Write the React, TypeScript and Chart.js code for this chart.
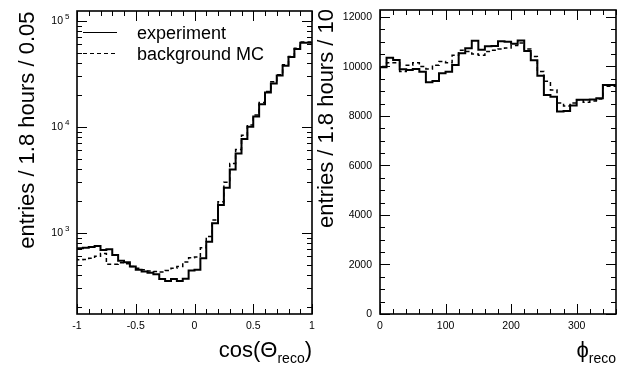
import React, { useEffect, useRef } from "react";
import { Chart, registerables } from "chart.js";
Chart.register(...registerables);

const FONT = '"Liberation Sans", Arial, Helvetica, sans-serif';

// ---------- Left panel: cos(Theta_reco), 40 bins of 0.05 ----------
const cosLo = -1;
const cosHi = 1;
const cosBinWidth = 0.05;
const cosExperiment = [
  687, 713, 722, 733, 749, 687, 697, 617, 545, 525,
  480, 447, 430, 418, 405, 366, 350, 366, 350, 368,
  440, 447, 573, 822, 1227, 1824, 2650, 3950, 5600, 7650,
  10000, 12500, 16300, 21000, 25600, 30500, 37500, 45500, 54000, 62000,
];
const cosBackgroundMC = [
  575, 555, 560, 575, 600, 638, 505, 505, 520, 510,
  480, 462, 447, 436, 430, 425, 440, 462, 480, 530,
  580, 590, 720, 920, 1320, 1960, 3000, 4500, 6100, 8300,
  10400, 12900, 16900, 21500, 26500, 31000, 38500, 46000, 55000, 63000,
];
const cosXTickValues = [-1, -0.5, 0, 0.5, 1];
const cosXTickLabels = ["-1", "-0.5", "0", "0.5", "1"];
const cosYDecades = [3, 4, 5];
const cosYMin = 171;
const cosYMax = 123500;

// ---------- Right panel: phi_reco, 36 bins of 10 ----------
const phiLo = 0;
const phiHi = 360;
const phiBinWidth = 10;
const phiExperiment = [
  9454, 9967, 10355, 10262, 9886, 9858, 9900, 9790, 9360, 9413,
  9724, 9790, 10060, 10530, 10730, 11040, 10670, 10820, 10830, 11020,
  11000, 10920, 11050, 10620, 10250, 9620, 8850, 8780, 8180, 8200,
  8420, 8650, 8650, 8660, 8720, 9250,
];
const phiBackgroundMC = [
  9800, 10000, 10150, 10150, 9800, 10050, 10150, 10000, 9900, 10050,
  10200, 10150, 10450, 10650, 10600, 10500, 10450, 10600, 10650, 10700,
  10750, 10850, 10950, 10700, 10400, 9800, 9400, 9050, 8520, 8400,
  8520, 8650, 8550, 8600, 8680, 9200,
];
const phiXTickValues = [0, 100, 200, 300];
const phiXTickLabels = ["0", "100", "200", "300"];
const phiYTickValues = [0, 2000, 4000, 6000, 8000, 10000, 12000];
const phiYTickLabels = ["0", "2000", "4000", "6000", "8000", "10000", "12000"];
const phiYMax = 12280;

const legendLabels = ["experiment", "background MC"];
const yTitleLeft = "entries / 1.8 hours / 0.05";
const yTitleRight = "entries / 1.8 hours / 10";

function histPoints(lo: number, w: number, vals: number[]) {
  const pts = vals.map((v, i) => ({ x: lo + i * w, y: v }));
  pts.push({ x: lo + vals.length * w, y: vals[vals.length - 1] });
  return pts;
}

function steps(a: number, b: number, s: number) {
  const out: number[] = [];
  for (let i = 0; a + i * s <= b + 1e-9; i++) out.push(+(a + i * s).toFixed(6));
  return out;
}

type PanelCfg = {
  xMajor: number[];
  xMinor: number[];
  xLabels: string[];
  yMajor: number[];
  yMinor: number[];
  drawYLabel: (ctx: CanvasRenderingContext2D, x: number, y: number, i: number) => void;
  yTitle: string;
  yTitleX: number;
  yTitleTop: number;
  xTitle: (ctx: CanvasRenderingContext2D, right: number) => void;
  legend: boolean;
};

function makePlugin(cfg: PanelCfg) {
  return {
    id: "rootFrame",
    afterDatasetsDraw(chart: any) {
      const { ctx, chartArea: a, scales } = chart;
      const xs = scales.x;
      const ys = scales.y;
      ctx.save();
      ctx.strokeStyle = "#000";
      ctx.lineWidth = 1;
      const line = (x1: number, y1: number, x2: number, y2: number) => {
        ctx.beginPath();
        ctx.moveTo(x1, y1);
        ctx.lineTo(x2, y2);
        ctx.stroke();
      };
      for (const v of cfg.xMinor) {
        const p = Math.round(xs.getPixelForValue(v)) + 0.5;
        line(p, a.bottom, p, a.bottom - 5);
        line(p, a.top, p, a.top + 5);
      }
      for (const v of cfg.xMajor) {
        const p = Math.round(xs.getPixelForValue(v)) + 0.5;
        line(p, a.bottom, p, a.bottom - 10);
        line(p, a.top, p, a.top + 10);
      }
      for (const v of cfg.yMinor) {
        const p = Math.round(ys.getPixelForValue(v)) + 0.5;
        line(a.left, p, a.left + 5, p);
        line(a.right, p, a.right - 5, p);
      }
      for (const v of cfg.yMajor) {
        const p = Math.round(ys.getPixelForValue(v)) + 0.5;
        line(a.left, p, a.left + 10, p);
        line(a.right, p, a.right - 10, p);
      }
      ctx.lineWidth = 1.6;
      ctx.strokeRect(a.left, a.top, a.right - a.left, a.bottom - a.top);
      ctx.restore();
    },
    afterDraw(chart: any) {
      const { ctx, chartArea: a, scales } = chart;
      const xs = scales.x;
      const ys = scales.y;
      ctx.save();
      ctx.fillStyle = "#000";
      // x tick labels
      ctx.font = `10.5px ${FONT}`;
      ctx.textAlign = "center";
      ctx.textBaseline = "middle";
      cfg.xMajor.forEach((v, i) => {
        ctx.fillText(cfg.xLabels[i], xs.getPixelForValue(v), a.bottom + 12);
      });
      // y tick labels
      cfg.yMajor.forEach((v, i) => {
        cfg.drawYLabel(ctx, a.left - 8, ys.getPixelForValue(v), i);
      });
      // y title
      ctx.save();
      ctx.translate(cfg.yTitleX, cfg.yTitleTop);
      ctx.rotate(-Math.PI / 2);
      ctx.font = `22px ${FONT}`;
      ctx.textAlign = "right";
      ctx.textBaseline = "alphabetic";
      ctx.fillText(cfg.yTitle, 0, 0);
      ctx.restore();
      // x title
      cfg.xTitle(ctx, a.right);
      // legend
      if (cfg.legend) {
        ctx.strokeStyle = "#000";
        ctx.lineWidth = 1.2;
        ctx.beginPath();
        ctx.moveTo(83, 32.5);
        ctx.lineTo(117, 32.5);
        ctx.stroke();
        ctx.setLineDash([4, 3]);
        ctx.beginPath();
        ctx.moveTo(83, 53.5);
        ctx.lineTo(117, 53.5);
        ctx.stroke();
        ctx.setLineDash([]);
        ctx.font = `18px ${FONT}`;
        ctx.textAlign = "left";
        ctx.textBaseline = "alphabetic";
        ctx.fillText(legendLabels[0], 137, 39);
        ctx.fillText(legendLabels[1], 137, 60);
      }
      ctx.restore();
    },
  };
}

function drawSubTitle(ctx: CanvasRenderingContext2D, right: number, main: string, sub: string, suffix: string) {
  ctx.textAlign = "left";
  ctx.textBaseline = "alphabetic";
  ctx.font = `22px ${FONT}`;
  const wMain = ctx.measureText(main).width;
  const wSuf = ctx.measureText(suffix).width;
  ctx.font = `14px ${FONT}`;
  const wSub = ctx.measureText(sub).width;
  let x = right - (wMain + wSub + wSuf);
  ctx.font = `22px ${FONT}`;
  ctx.fillText(main, x, 357);
  x += wMain;
  ctx.font = `14px ${FONT}`;
  ctx.fillText(sub, x, 363);
  x += wSub;
  ctx.font = `22px ${FONT}`;
  if (suffix) ctx.fillText(suffix, x, 357);
}

function lineDatasets(lo: number, w: number, exp: number[], mc: number[]) {
  return [
    {
      label: legendLabels[1],
      data: histPoints(lo, w, mc),
      borderColor: "#000",
      borderWidth: 1.5,
      borderDash: [4, 3],
      pointRadius: 0,
      stepped: "after" as const,
      fill: false,
    },
    {
      label: legendLabels[0],
      data: histPoints(lo, w, exp),
      borderColor: "#000",
      borderWidth: 2,
      pointRadius: 0,
      stepped: "after" as const,
      fill: false,
    },
  ];
}

function useChart(ref: React.RefObject<HTMLCanvasElement>, build: () => any) {
  useEffect(() => {
    if (!ref.current) return;
    const chart = new Chart(ref.current, build());
    return () => chart.destroy();
  }, []);
}

export default function App() {
  const leftRef = useRef<HTMLCanvasElement>(null);
  const rightRef = useRef<HTMLCanvasElement>(null);

  useChart(leftRef, () => {
    const yMinor: number[] = [];
    for (let d = 2; d <= 5; d++) for (let m = 2; m <= 9; m++) {
      const v = m * Math.pow(10, d);
      if (v >= cosYMin && v <= cosYMax) yMinor.push(v);
    }
    const cfg: PanelCfg = {
      xMajor: cosXTickValues,
      xMinor: steps(cosLo, cosHi, 0.1),
      xLabels: cosXTickLabels,
      yMajor: cosYDecades.map((d) => Math.pow(10, d)),
      yMinor,
      drawYLabel: (ctx, x, y, i) => {
        ctx.textBaseline = "middle";
        ctx.font = `10.5px ${FONT}`;
        ctx.textAlign = "right";
        ctx.fillText("10", x - 6, y + 0.5);
        ctx.font = `8px ${FONT}`;
        ctx.textAlign = "left";
        ctx.fillText(String(cosYDecades[i]), x - 4, y - 4);
      },
      yTitle: yTitleLeft,
      yTitleX: 33.5,
      yTitleTop: 11.5,
      xTitle: (ctx, right) => drawSubTitle(ctx, right, "cos(\u0398", "reco", ")"),
      legend: true,
    };
    return {
      type: "line",
      data: { datasets: lineDatasets(cosLo, cosBinWidth, cosExperiment, cosBackgroundMC) },
      options: {
        animation: false,
        responsive: false,
        devicePixelRatio: 1,
        layout: { padding: { left: 77, right: 6, top: 11, bottom: 51 } },
        plugins: { legend: { display: false }, tooltip: { enabled: false } },
        scales: {
          x: { type: "linear", min: cosLo, max: cosHi, display: false },
          y: { type: "logarithmic", min: cosYMin, max: cosYMax, display: false },
        },
      },
      plugins: [makePlugin(cfg)],
    };
  });

  useChart(rightRef, () => {
    const cfg: PanelCfg = {
      xMajor: phiXTickValues,
      xMinor: steps(phiLo, phiHi, 20),
      xLabels: phiXTickLabels,
      yMajor: phiYTickValues,
      yMinor: steps(0, 12000, 500),
      drawYLabel: (ctx, x, y, i) => {
        ctx.textBaseline = "middle";
        ctx.font = `10.5px ${FONT}`;
        ctx.textAlign = "right";
        ctx.fillText(phiYTickLabels[i], x, y + 0.5);
      },
      yTitle: yTitleRight,
      yTitleX: 21,
      yTitleTop: 9,
      xTitle: (ctx, right) => drawSubTitle(ctx, right, "\u03D5", "reco", ""),
      legend: false,
    };
    return {
      type: "line",
      data: { datasets: lineDatasets(phiLo, phiBinWidth, phiExperiment, phiBackgroundMC) },
      options: {
        animation: false,
        responsive: false,
        devicePixelRatio: 1,
        layout: { padding: { left: 68, right: 8, top: 10, bottom: 51 } },
        plugins: { legend: { display: false }, tooltip: { enabled: false } },
        scales: {
          x: { type: "linear", min: phiLo, max: phiHi, display: false },
          y: { type: "linear", min: 0, max: phiYMax, display: false },
        },
      },
      plugins: [makePlugin(cfg)],
    };
  });

  return (
    <div style={{ position: "fixed", left: 0, top: 0, width: 624, height: 365, background: "#fff" }}>
      <canvas ref={leftRef} width={318} height={365} style={{ position: "absolute", left: 0, top: 0, width: 318, height: 365 }} />
      <canvas ref={rightRef} width={312} height={365} style={{ position: "absolute", left: 312, top: 0, width: 312, height: 365 }} />
    </div>
  );
}
